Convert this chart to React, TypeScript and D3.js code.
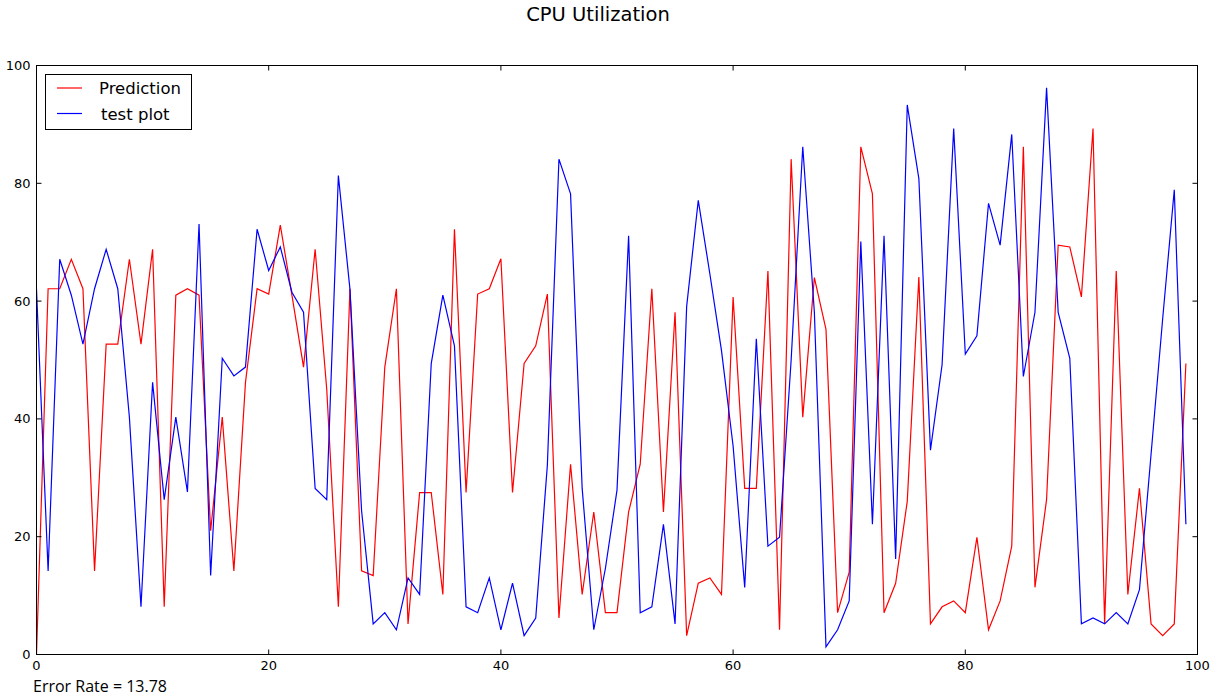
import React from "react";
import * as d3 from "d3";

const xIndex: number[] = Array.from({ length: 100 }, (_, i) => i);

const prediction: number[] = [
  0, 62.1, 62.1, 67.1, 62.1, 14.2, 52.7, 52.7, 67.1, 52.7,
  68.8, 8.1, 61, 62.1, 61, 21, 40.3, 14.2, 46.2, 62.1,
  61.2, 72.9, 61, 48.8, 68.8, 45, 8.1, 62.1, 14.2, 13.4,
  48.8, 62.1, 5.2, 27.5, 27.5, 10.2, 72.2, 27.5, 61.2, 62.1,
  67.2, 27.5, 49.4, 52.4, 61.2, 6.2, 32.3, 10.2, 24.2, 7.1,
  7.1, 24.2, 32.3, 62.1, 24.2, 58.1, 3.2, 12.1, 13, 10.2,
  60.7, 28.2, 28.2, 65.1, 4.2, 84.1, 40.3, 64, 55.2, 7.1,
  14, 86.2, 78.2, 7.1, 12.1, 26, 64.1, 5.2, 8.1, 9.1,
  7.1, 19.9, 4.2, 9.1, 18.4, 86.2, 11.4, 26.3, 69.5, 69.2,
  60.7, 89.3, 5.2, 65.1, 10.2, 28.2, 5.2, 3.2, 5.2, 49.4,
];

const testPlot: number[] = [
  62, 14.2, 67.1, 61, 52.7, 62.1, 68.8, 62.1, 40.3, 8.1,
  46.2, 26.3, 40.3, 27.6, 73.1, 13.4, 50.3, 47.3, 48.8, 72.2,
  65.2, 69.2, 61.5, 58.1, 28.2, 26.3, 81.3, 62, 24.4, 5.2,
  7.1, 4.2, 13, 10.2, 49.4, 61, 52.4, 8.1, 7.1, 13,
  4.2, 12.1, 3.2, 6.2, 32.1, 84.1, 78.2, 28.2, 4.2, 14.6,
  27.9, 71.1, 7.1, 8.1, 22.1, 5.2, 59.1, 77.1, 64.6, 51.6,
  35.4, 11.4, 53.6, 18.4, 19.9, 50, 86.2, 58.1, 1.3, 4.2,
  9.1, 70.1, 22.1, 71.1, 16.2, 93.3, 80.8, 34.7, 49.2, 89.3,
  51, 54.1, 76.6, 69.5, 88.3, 47.2, 58.1, 96.2, 58.1, 50.3,
  5.2, 6.2, 5.2, 7.1, 5.2, 11, 34, 57, 78.9, 22.1,
];

const xTicks: number[] = [0, 20, 40, 60, 80, 100];
const yTicks: number[] = [0, 20, 40, 60, 80, 100];
const seriesNames: string[] = ["Prediction", "test plot"];
const seriesColors: string[] = ["#ff0000", "#0000ff"];
const title = "CPU Utilization";
const errorText = "Error Rate = 13.78";

export default function App() {
  const W = 1213;
  const H = 697;
  const left = 36.5;
  const right = 1197.5;
  const top = 65.5;
  const bottom = 654.5;
  const x = d3.scaleLinear().domain([0, 100]).range([left, right]);
  const y = d3.scaleLinear().domain([0, 100]).range([bottom, top]);
  const line = d3
    .line<number>()
    .x((_, i) => x(xIndex[i]))
    .y((d) => y(d));
  const font = "'DejaVu Sans', sans-serif";
  const tl = 5;
  return (
    <svg
      width={W}
      height={H}
      style={{ position: "absolute", left: 0, top: 0, background: "#fff" }}
    >
      <rect x={0} y={0} width={W} height={H} fill="#fff" />
      <text x={598} y={21} fontFamily={font} fontSize={19.5} textAnchor="middle">
        {title}
      </text>
      <defs>
        <clipPath id="plotclip">
          <rect x={left} y={top} width={right - left} height={bottom - top} />
        </clipPath>
      </defs>
      <g clipPath="url(#plotclip)">
        <path d={line(prediction) || ""} fill="none" stroke={seriesColors[0]} strokeWidth={1.2} />
        <path d={line(testPlot) || ""} fill="none" stroke={seriesColors[1]} strokeWidth={1.2} />
      </g>
      {xTicks.map((t) => (
        <g key={"x" + t}>
          <line x1={x(t)} x2={x(t)} y1={bottom} y2={bottom - tl} stroke="#000" />
          <line x1={x(t)} x2={x(t)} y1={top} y2={top + tl} stroke="#000" />
          <text
            x={x(t)}
            y={bottom + 15}
            fontFamily={font}
            fontSize={13}
            textAnchor="middle"
          >
            {t}
          </text>
        </g>
      ))}
      {yTicks.map((t) => (
        <g key={"y" + t}>
          <line x1={left} x2={left + tl} y1={y(t)} y2={y(t)} stroke="#000" />
          <line x1={right} x2={right - tl} y1={y(t)} y2={y(t)} stroke="#000" />
          <text
            x={left - 6}
            y={y(t) + 4.5}
            fontFamily={font}
            fontSize={13}
            textAnchor="end"
          >
            {t}
          </text>
        </g>
      ))}
      <rect
        x={left}
        y={top}
        width={right - left}
        height={bottom - top}
        fill="none"
        stroke="#000"
        strokeWidth={1}
      />
      <g>
        <rect x={45.5} y={74.5} width={146} height={55} fill="#fff" stroke="#000" strokeWidth={1} />
        {seriesNames.map((n, i) => (
          <g key={n}>
            <line
              x1={57}
              x2={82}
              y1={88 + i * 25.5}
              y2={88 + i * 25.5}
              stroke={seriesColors[i]}
              strokeWidth={1.2}
            />
            <text
              x={i === 0 ? 99 : 101}
              y={88 + i * 25.5 + 6}
              fontFamily={font}
              fontSize={16.5}
            >
              {n}
            </text>
          </g>
        ))}
      </g>
      <text x={33} y={692} fontFamily="'Open Sans', 'Liberation Sans', sans-serif" fontSize={16}>
        {errorText}
      </text>
    </svg>
  );
}
